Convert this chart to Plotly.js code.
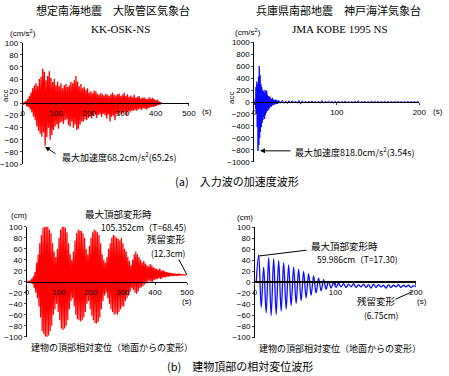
<!DOCTYPE html>
<html><head><meta charset="utf-8">
<script src="https://cdn.plot.ly/plotly-3.0.1.min.js"></script>
<style>html,body{margin:0;padding:0;background:#fff}#c{width:449px;height:376px}</style>
</head><body><div id="c"></div>
<script>
// Osaka (KK-OSK-NS) input acceleration, cm/s^2, sampled every 2.5 s from t=0
const osakaAccT0 = 0, osakaAccDt = 2.5;
const osakaAcc = [1,-2,2,-1, 4,-5,7,-6, 12,-10,18,-15, 25,-22,30,-28, 33,-38,28,-45,
 40,-50,44,-55, 57,-48,52,-70, 38,-56,45,-40, 53,-60,42,-52, 35,-44,40,-38,
 30,-35,36,-42, 28,-32,33,-30, 25,-34,30,-28, 32,-26,27,-36, 30,-38,35,-30,
 33,-40,38,-35, 45,-44,36,-42, 28,-35,32,-30, 25,-30,27,-26, 22,-28,25,-24,
 18,-22,20,-25, 17,-20,21,-18, 20,-24,16,-19, 14,-18,17,-22, 15,-17,13,-20,
 16,-25,14,-18, 12,-30,15,-22, 18,-20,14,-28, 13,-17,15,-19, 16,-15,12,-18,
 14,-16,18,-14, 12,-20,15,-13, 11,-15,13,-12, 10,-12,14,-11, 9,-12,11,-10,
 12,-9,8,-11, 9,-8,10,-9, 8,-10,7,-8, 10,-7,8,-6, 9,-6,7,-5, 5,-4,6,-3, 3,-2,2,-1];
// Kobe (JMA KOBE 1995 NS) acceleration, strong part: every 0.5 s from t=0
const kobeAccT0 = 0, kobeAccDt = 0.5;
const kobeAcc = [10,-30,60,-120,250,-200,340,-420,300,-818,420,-720,600,-600,450,-500,300,-420,250,-350,
 200,-300,180,-250,150,-280,200,-220,170,-180,190,-150,120,-140,100,-120,80,-100,90,-70,
 60,-80,50,-60,70,-50,40,-45,35,-40,30,-35,40,-30,25,-30,20,-25,25,-20];
// Kobe acceleration tail: every 2 s from t=30
const kobeTailT0 = 30, kobeTailDt = 2;
const kobeTail = [25,-20,30,-22,18,-25,20,-15,22,-18, 15,-20,28,-35,20,-16,14,-18,16,-12,
 18,-15,12,-14,15,-20,25,-18,12,-10, 14,-12,10,-15,12,-10,16,-13,11,-9,
 13,-11,10,-12,9,-10,12,-9,22,-18, 10,-8,11,-9,8,-10,12,-8,9,-7,
 10,-9,8,-10,14,-12,9,-8,7,-9, 8,-7,9,-6,7,-8,6,-7,8,-6, 6,-5,7,-6,5,-6];
// Building top relative displacement (Osaka), cm, every 2.5 s
const osakaDispT0 = 0, osakaDispDt = 2.5;
const osakaDisp = [0,-1,1,-1, 2,-3,5,-4, 10,-12,18,-20, 35,-30,50,-45, 70,-65,85,-90,
 98,-95,100,-100, 105,-104,102,-98, 95,-90,88,-80, 70,-60,55,-50, 45,-40,60,-55,
 80,-70,95,-85, 100,-88,103,-85, 98,-80,90,-70, 70,-50,50,-35, 40,-30,55,-45,
 75,-60,88,-68, 95,-70,93,-72, 92,-70,88,-65, 80,-55,60,-40, 50,-35,65,-50,
 80,-62,90,-70, 95,-75,93,-76, 90,-73,85,-65, 70,-50,50,-35, 40,-25,35,-20,
 45,-30,60,-40, 70,-50,80,-55, 85,-60,83,-58, 80,-60,78,-55, 75,-50,80,-45,
 70,-45,60,-35, 55,-30,45,-25, 38,-18,30,-12, 40,-15,50,-20, 55,-22,50,-18,
 45,-12,40,-10, 35,-8,38,-5, 33,-3,30,0, 28,2,32,-2, 30,0,26,3,
 25,4,23,5, 22,6,24,5, 20,7,21,8, 19,8,18,9, 17,9,16,10,
 16,10,15,10, 15,11,14,11, 14,11,14,12, 13,12,13,12, 12.5,12,12.3,12.3];
// Building top relative displacement (Kobe), cm, every 3.1 s from t=1.5
const kobeDispT0 = 1.5, kobeDispDt = 3.1;
const kobeDisp = [0,50,-45,28,-55,45,-60,43,-58,40, -52,36,-48,32,-42,28,-38,24,-33,20,
 -28,16,-23,12,-19,8,-15,5,-12,2, -10,0,-9,-1,-8,-2,-9,-3,-8,-2,
 -9,-4,-8,-3,-9,-4,-10,-3,-9,-4, -8,-5,-10,-4,-9,-5,-8,-4,-9,-5, -8,-5,-9,-6,-7];

const ticksAccOsaka = [-100,-80,-60,-40,-20,0,20,40,60,80,100];
const ticksAccKobe = [-1000,-800,-600,-400,-200,0,200,400,600,800,1000];
const ticksDisp = [-100,-80,-60,-40,-20,0,20,40,60,80,100];
const ticksT500 = [0,100,200,300,400,500];
const ticksT200 = [0,100,200];

const RED = 'rgb(255,0,0)', BLUE = 'rgb(10,10,255)';
const JP = '"Noto Sans CJK JP", sans-serif';
const TF = {family: 'Liberation Sans, Arial, sans-serif', size: 8, color: '#000'};

const traces = [
 {type:'scatter', mode:'lines', x0:osakaAccT0, dx:osakaAccDt, y:osakaAcc, xaxis:'x', yaxis:'y', line:{color:RED, width:1.3}},
 {type:'scatter', mode:'lines', x0:kobeAccT0, dx:kobeAccDt, y:kobeAcc, xaxis:'x2', yaxis:'y2', line:{color:BLUE, width:1}},
 {type:'scatter', mode:'lines', x0:kobeTailT0, dx:kobeTailDt, y:kobeTail, xaxis:'x2', yaxis:'y2', line:{color:BLUE, width:1}},
 {type:'scatter', mode:'lines', x0:osakaDispT0, dx:osakaDispDt, y:osakaDisp, xaxis:'x3', yaxis:'y3', line:{color:RED, width:1.2}},
 {type:'scatter', mode:'lines', x0:kobeDispT0, dx:kobeDispDt, y:kobeDisp, xaxis:'x4', yaxis:'y4', line:{color:BLUE, width:1.3, shape:'spline'}}
];

function xa(dom, pos, rng, tv, lw){
  return {domain:dom, anchor:'free', position:pos, range:rng, tickvals:tv, ticks:'outside', ticklen:2,
    showline:true, linecolor:'#000', linewidth:lw, showgrid:false, zeroline:false, tickfont:TF, fixedrange:true};
}
function ya(dom, anc, rng, tv){
  return {domain:dom, anchor:anc, range:rng, tickvals:tv, ticks:'outside', ticklen:2, showline:true,
    linecolor:'#000', linewidth:1, showgrid:false, zeroline:false, tickfont:TF, fixedrange:true};
}
function P(px,py){return {x:px/449, y:1-py/376};}
function txt(t, px, py, size, fam, extra){
  const p = P(px,py);
  return Object.assign({text:t, xref:'paper', yref:'paper', x:p.x, y:p.y, showarrow:false,
    font:{family:fam||JP, size:size, color:'#000'}, xanchor:'center', yanchor:'middle'}, extra||{});
}
function lead(t, v, xr, yr, ax, ay, head){
  return {text:'', x:t, y:v, xref:xr, yref:yr, ax:ax, ay:ay, showarrow:true, arrowhead:head?2:0,
    arrowsize:1, arrowwidth:1, arrowcolor:'#000', standoff:0, startstandoff:0};
}

const layout = {
  width:449, height:376, margin:{l:0,r:0,t:0,b:0}, paper_bgcolor:'#fff', plot_bgcolor:'rgba(0,0,0,0)',
  showlegend:false, hovermode:false,
  xaxis: xa([0.0506,0.4209], 0.7253, [0,500], ticksT500, 1),
  yaxis: ya([0.5638,0.8864], 'x', [-100,100], ticksAccOsaka),
  xaxis2: xa([0.5664,0.9339], 0.7282, [0,200], ticksT200, 1),
  yaxis2: ya([0.5699,0.8875], 'x2', [-1000,1000], ticksAccKobe),
  xaxis3: xa([0.0601,0.4165], 0.2508, [0,500], ticksT500, 1.5),
  yaxis3: ya([0.1045,0.3971], 'x3', [-100,100], ticksDisp),
  xaxis4: xa([0.5679,0.9265], 0.2487, [0,200], ticksT200, 2),
  yaxis4: ya([0.1019,0.3955], 'x4', [-100,100], ticksDisp),
  annotations: [
    txt('想定南海地震　大阪管区気象台', 113, 10, 11),
    txt('兵庫県南部地震　神戸海洋気象台', 338, 10, 11),
    txt('KK-OSK-NS', 120, 29, 11, 'Liberation Serif, serif'),
    txt('JMA KOBE 1995 NS', 340, 29, 11, 'Liberation Serif, serif'),
    txt('(cm/s<sup>2</sup>)', 23, 33, 8, 'Liberation Sans, sans-serif'),
    txt('(cm/s<sup>2</sup>)', 248, 32, 8, 'Liberation Sans, sans-serif'),
    txt('acc', 6, 96, 8, 'Liberation Sans, sans-serif', {textangle:-90}),
    txt('acc', 231, 98, 8, 'Liberation Sans, sans-serif', {textangle:-90}),
    txt('(s)', 200, 111, 8, 'Liberation Sans, sans-serif', {xanchor:'left'}),
    txt('(s)', 431, 111, 8, 'Liberation Sans, sans-serif', {xanchor:'left'}),
    txt('最大加速度68.2cm/s<sup>2</sup>(65.2s)', 60, 157, 9, JP, {xanchor:'left'}),
    txt('最大加速度818.0cm/s<sup>2</sup>(3.54s)', 293, 152, 9, JP, {xanchor:'left'}),
    txt('(a)　入力波の加速度波形', 237, 181, 11),
    txt('(cm)', 19, 215, 8, 'Liberation Sans, sans-serif'),
    txt('(cm)', 245, 217, 8, 'Liberation Sans, sans-serif'),
    txt('最大頂部変形時', 118, 214, 9.5),
    txt('105.352cm（T=68.45)', 143, 227, 8.5),
    txt('残留変形', 166, 239, 9.5),
    txt('(12.3cm)', 168, 253, 8.5),
    txt('(s)', 187, 301, 8, 'Liberation Sans, sans-serif'),
    txt('最大頂部変形時', 344, 246, 9.5),
    txt('59.986cm（T=17.30)', 357, 259, 8.5),
    txt('残留変形', 376, 301, 9.5),
    txt('(6.75cm)', 381, 315, 8.5),
    txt('(s)', 422, 301, 8, 'Liberation Sans, sans-serif'),
    txt('建物の頂部相対変位（地面からの変形）', 112, 347, 9),
    txt('建物の頂部相対変位（地面からの変形）', 340, 348, 9),
    txt('(b)　建物頂部の相対変位波形', 240, 366, 11),
    lead(67, -71.5, 'x', 'y', 12, 8, true),
    lead(6.9, -818, 'x2', 'y2', 32, 0, true),
    lead(62.5, 103.6, 'x3', 'y3', 48, -6, false),
    lead(500, 12.3, 'x3', 'y3', -9, -17, false),
    lead(5, 48, 'x4', 'y4', 49, -6, false),
    lead(195, -17, 'x4', 'y4', -18, 8, false)
  ]
};
Plotly.newPlot('c', traces, layout, {staticPlot:true, displayModeBar:false});
</script></body></html>
